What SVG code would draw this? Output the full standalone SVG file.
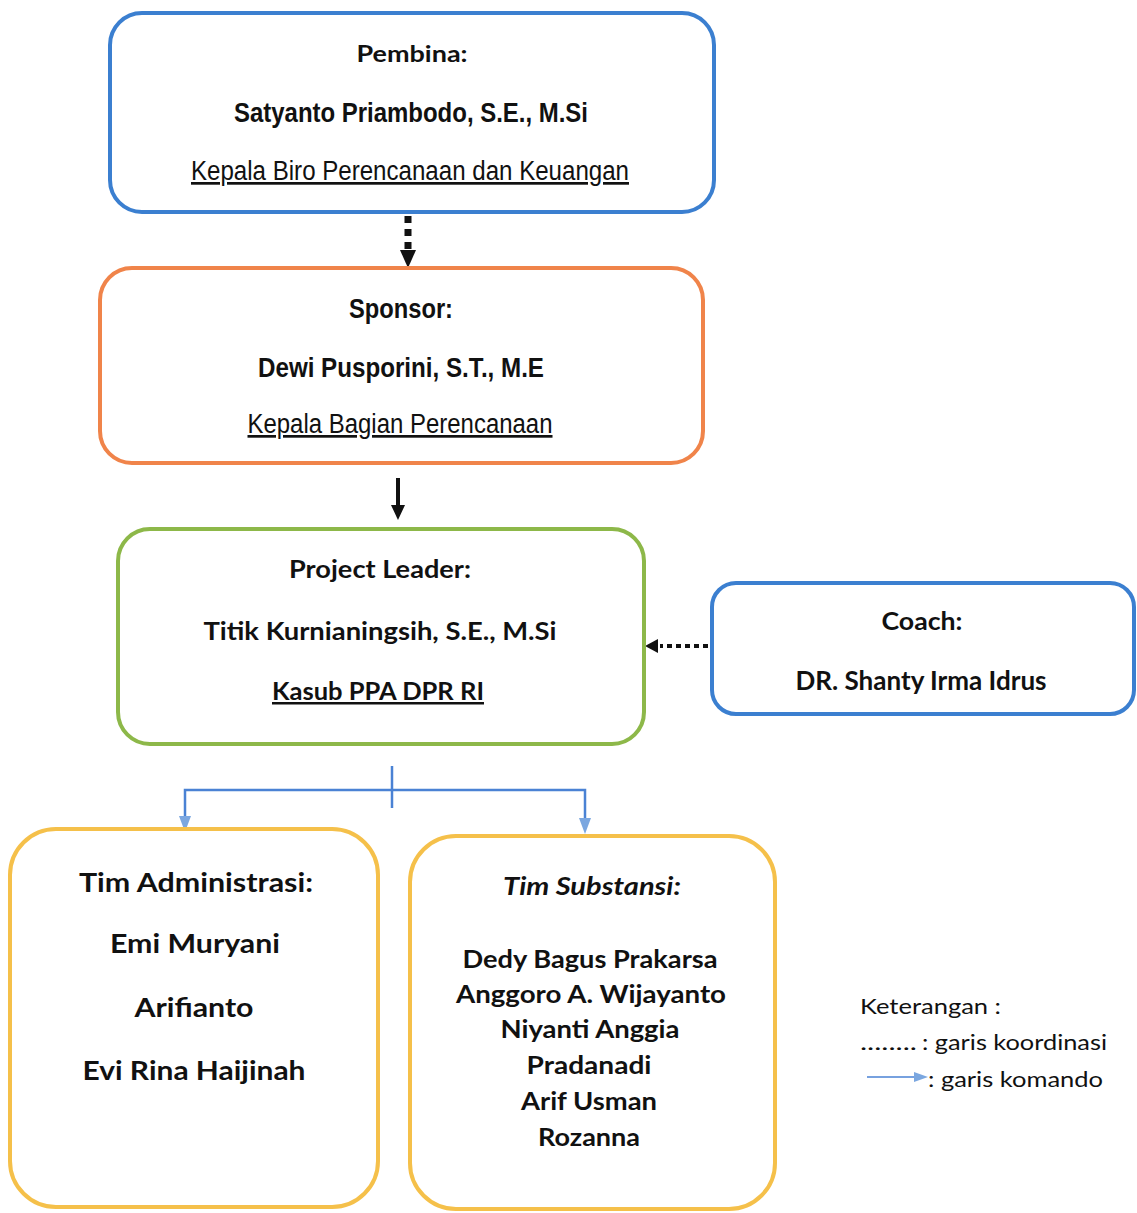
<svg xmlns="http://www.w3.org/2000/svg" width="1137" height="1213" viewBox="0 0 1137 1213">
<style>
.box{fill:#fff;stroke-width:4}
.n{font-family:"Liberation Sans Narrow","Liberation Sans",Arial,sans-serif;font-weight:bold;fill:#111;text-anchor:middle}
.u{font-family:"Liberation Sans Narrow","Liberation Sans",Arial,sans-serif;fill:#111;text-anchor:middle;text-decoration:underline}
.c{font-family:Lato,"Open Sans",sans-serif;font-weight:bold;fill:#111;text-anchor:middle}
.l{font-family:Lato,"Open Sans",sans-serif;fill:#111}
</style>
<rect width="1137" height="1213" fill="#fff"/>
<g id="connectors">
<line x1="408" y1="216" x2="408" y2="250" stroke="#111" stroke-width="7" stroke-dasharray="7,6"/>
<path d="M400,250 L416,250 L408,268 Z" fill="#111"/>
<line x1="398" y1="478" x2="398" y2="508" stroke="#111" stroke-width="4"/>
<path d="M391,505 L405,505 L398,520 Z" fill="#111"/>
<line x1="708" y1="646" x2="660" y2="646" stroke="#111" stroke-width="4" stroke-dasharray="5,4"/>
<path d="M658,639 L658,653 L645,646 Z" fill="#111"/>
<line x1="392" y1="766" x2="392" y2="808" stroke="#4a82d4" stroke-width="2.5"/>
<polyline points="185,818 185,790 585,790 585,818" fill="none" stroke="#4a82d4" stroke-width="2.5"/>
<path d="M179,816 L191,816 L185,832 Z" fill="#7ba7e0"/>
<path d="M579,818 L591,818 L585,834 Z" fill="#7ba7e0"/>
</g>
<g id="pembina">
<rect class="box" x="110" y="13" width="604" height="199" rx="32" stroke="#3b7fd0"/>
<text class="c" x="412" y="62" font-size="23" textLength="111" lengthAdjust="spacingAndGlyphs">Pembina:</text>
<text class="n" x="411" y="122" font-size="28" textLength="354" lengthAdjust="spacingAndGlyphs">Satyanto Priambodo, S.E., M.Si</text>
<text class="u" x="410" y="180" font-size="27" textLength="438" lengthAdjust="spacingAndGlyphs">Kepala Biro Perencanaan dan Keuangan</text>
</g>
<g id="sponsor">
<rect class="box" x="100" y="268" width="603" height="195" rx="32" stroke="#f0844a"/>
<text class="n" x="401" y="318" font-size="28" textLength="104" lengthAdjust="spacingAndGlyphs">Sponsor:</text>
<text class="n" x="401" y="377" font-size="28" textLength="286" lengthAdjust="spacingAndGlyphs">Dewi Pusporini, S.T., M.E</text>
<text class="u" x="400" y="433" font-size="27" textLength="305" lengthAdjust="spacingAndGlyphs">Kepala Bagian Perencanaan</text>
</g>
<g id="project-leader">
<rect class="box" x="118" y="529" width="526" height="215" rx="32" stroke="#8db849"/>
<text class="c" x="380" y="578" font-size="25" textLength="182" lengthAdjust="spacingAndGlyphs">Project Leader:</text>
<text class="c" x="380" y="640" font-size="25" textLength="353" lengthAdjust="spacingAndGlyphs">Titik Kurnianingsih, S.E., M.Si</text>
<text class="c" x="378" y="700" font-size="25" font-weight="normal" text-decoration="underline" textLength="212" lengthAdjust="spacingAndGlyphs">Kasub PPA DPR RI</text>
</g>
<g id="coach">
<rect class="box" x="712" y="583" width="422" height="131" rx="24" stroke="#3b7fd0"/>
<text class="c" x="922" y="630" font-size="25" textLength="81" lengthAdjust="spacingAndGlyphs">Coach:</text>
<text class="c" x="921" y="690" font-size="26" font-weight="normal" textLength="251" lengthAdjust="spacingAndGlyphs">DR. Shanty Irma Idrus</text>
</g>
<g id="tim-administrasi">
<rect class="box" x="10" y="829" width="368" height="378" rx="46" stroke="#f5c04a"/>
<text class="c" x="196" y="892" font-size="26" textLength="234" lengthAdjust="spacingAndGlyphs">Tim Administrasi:</text>
<text class="c" x="195" y="953" font-size="26" textLength="170" lengthAdjust="spacingAndGlyphs">Emi Muryani</text>
<text class="c" x="194" y="1017" font-size="26" textLength="119" lengthAdjust="spacingAndGlyphs">Arifianto</text>
<text class="c" x="194" y="1080" font-size="26" textLength="223" lengthAdjust="spacingAndGlyphs">Evi Rina Haijinah</text>
</g>
<g id="tim-substansi">
<rect class="box" x="410" y="836" width="365" height="373" rx="46" stroke="#f5c04a"/>
<text class="c" x="592" y="895" font-size="25" font-style="italic" textLength="178" lengthAdjust="spacingAndGlyphs">Tim Substansi:</text>
<text class="c" x="590" y="968" font-size="25" textLength="255" lengthAdjust="spacingAndGlyphs">Dedy Bagus Prakarsa</text>
<text class="c" x="591" y="1003" font-size="25" textLength="270" lengthAdjust="spacingAndGlyphs">Anggoro A. Wijayanto</text>
<text class="c" x="590" y="1038" font-size="25" textLength="179" lengthAdjust="spacingAndGlyphs">Niyanti Anggia</text>
<text class="c" x="589" y="1074" font-size="25" textLength="125" lengthAdjust="spacingAndGlyphs">Pradanadi</text>
<text class="c" x="589" y="1110" font-size="25" textLength="136" lengthAdjust="spacingAndGlyphs">Arif Usman</text>
<text class="c" x="589" y="1146" font-size="25" textLength="102" lengthAdjust="spacingAndGlyphs">Rozanna</text>
</g>
<g id="legend">
<text class="l" x="860" y="1014" font-size="21" textLength="141" lengthAdjust="spacingAndGlyphs">Keterangan :</text>
<text class="l" x="860" y="1050" font-size="21" textLength="57" lengthAdjust="spacingAndGlyphs">........</text>
<text class="l" x="922" y="1050" font-size="21" textLength="185" lengthAdjust="spacingAndGlyphs">: garis koordinasi</text>
<line x1="867" y1="1077" x2="918" y2="1077" stroke="#4a82d4" stroke-width="1.5"/>
<path d="M914,1072 L928,1077 L914,1082 Z" fill="#7ba7e0"/>
<text class="l" x="928" y="1087" font-size="21" textLength="175" lengthAdjust="spacingAndGlyphs">: garis komando</text>
</g>
</svg>
